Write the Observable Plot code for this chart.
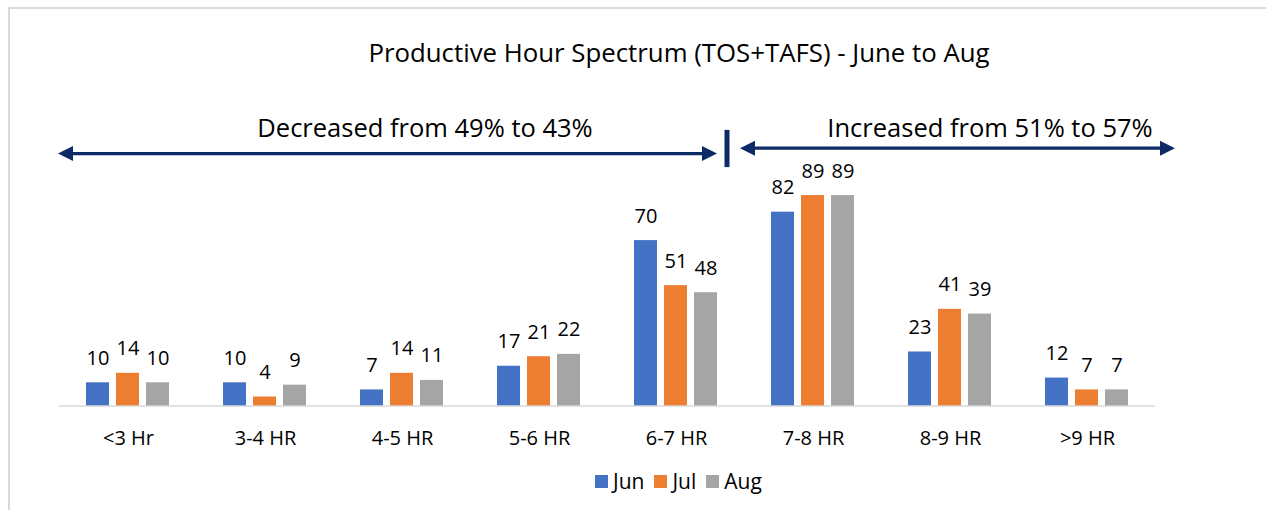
<!DOCTYPE html>
<html>
<head>
<meta charset="utf-8">
<script src="https://cdn.jsdelivr.net/npm/d3@7"></script>
<script src="https://cdn.jsdelivr.net/npm/@observablehq/plot@0.6"></script>
<style>
  body { margin: 0; background: #fff; font-family: "Open Sans", sans-serif; }
  #wrap { position: relative; width: 1266px; height: 510px; overflow: hidden; background: #fff; }
  #border { position: absolute; left: 8px; top: 7px; width: 1300px; height: 600px;
            border-left: 2px solid #d9d9d9; border-top: 2px solid #d9d9d9; }
  #title { position: absolute; top: 34px; left: 0; width: 1358px; text-align: center;
           font-size: 25.8px; color: #000; white-space: nowrap; }
  #chart { position: absolute; left: 0; top: 0; }
  #legend { position: absolute; left: 595px; top: 467px; display: flex; align-items: center;
            font-size: 21px; color: #000; }
  .item { display: flex; align-items: center; margin-right: 10px; }
  .sw { width: 13px; height: 13px; margin-right: 5px; }
</style>
</head>
<body>
<div id="wrap">
  <div id="border"></div>
  <div id="title"></div>
  <div id="chart"></div>
  <div id="legend"></div>
</div>
<script>
const titleText = "Productive Hour Spectrum (TOS+TAFS) - June to Aug";
const categories = ["<3 Hr", "3-4 HR", "4-5 HR", "5-6 HR", "6-7 HR", "7-8 HR", "8-9 HR", ">9 HR"];
const months = ["Jun", "Jul", "Aug"];
const jun = [10, 10, 7, 17, 70, 82, 23, 12];
const jul = [14, 4, 14, 21, 51, 89, 41, 7];
const aug = [10, 9, 11, 22, 48, 89, 39, 7];
const colors = ["#4472C4", "#ED7D31", "#A5A5A5"];
const annotationTexts = ["Decreased from 49% to 43%", "Increased from 51% to 57%"];

const series = [jun, jul, aug];
const data = categories.flatMap((cat, i) =>
  months.map((m, j) => ({ cat, month: m, value: series[j][i] })));

document.getElementById("title").textContent = titleText;

const W = 1266, H = 460;
const chart = Plot.plot({
  width: W, height: H,
  marginLeft: 59, marginRight: 111, marginTop: 169, marginBottom: 54,
  style: { fontFamily: "Open Sans", fontSize: "20px", color: "#000", background: "transparent" },
  fx: { domain: categories, paddingInner: 0.287, paddingOuter: 0.1435, label: null, axis: null },
  x: { domain: months, padding: 0.224, axis: null },
  y: { domain: [0, 100], axis: null },
  color: { domain: months, range: colors },
  marks: [
    Plot.barY(data, { fx: "cat", x: "month", y: "value", fill: "month" }),
    Plot.text(data, { fx: "cat", x: "month", y: "value", text: d => String(d.value),
      lineAnchor: "bottom", dy: -18, fontSize: 20, fill: "#000" }),
    Plot.axisFx({ anchor: "bottom", tickSize: 0, tickPadding: 24, fontSize: 20, label: null, fill: "#000" })
  ]
});
document.getElementById("chart").appendChild(chart);

// baseline + annotations drawn relative to the chart's scales
const svg = d3.select(chart);
const yS = chart.scale("y"), fxS = chart.scale("fx");
const left = fxS.range[0], right = fxS.range[1];
const y0 = yS.apply(0);
svg.append("line").attr("x1", left).attr("x2", right).attr("y1", y0).attr("y2", y0)
  .attr("stroke", "#d9d9d9").attr("stroke-width", 1.6);

const navy = "#0c2a66";
const divX = fxS.apply("6-7 HR") + fxS.bandwidth + 2;
function arrow(x1, x2, y) {
  const g = svg.append("g").attr("fill", navy).attr("stroke", navy);
  const h = 15, w = 7.5;
  g.append("line").attr("x1", x1 + h - 2).attr("x2", x2 - h + 2).attr("y1", y).attr("y2", y)
    .attr("stroke-width", 3.2);
  g.append("path").attr("stroke", "none")
    .attr("d", `M${x1},${y} L${x1 + h},${y - w} L${x1 + h},${y + w} Z`);
  g.append("path").attr("stroke", "none")
    .attr("d", `M${x2},${y} L${x2 - h},${y - w} L${x2 - h},${y + w} Z`);
}
arrow(left - 1, divX - 10, yS.apply(106.5));
arrow(divX + 13, right + 20, yS.apply(108.8));
svg.append("rect").attr("x", divX - 2.5).attr("width", 5)
  .attr("y", yS.apply(116.5)).attr("height", yS.apply(100.8) - yS.apply(116.5)).attr("fill", navy);

svg.append("text").attr("x", 425).attr("y", yS.apply(113.3))
  .attr("text-anchor", "middle").attr("font-size", 25.5).attr("fill", "#000").text(annotationTexts[0]);
svg.append("text").attr("x", 990).attr("y", yS.apply(113.3))
  .attr("text-anchor", "middle").attr("font-size", 25.5).attr("fill", "#000").text(annotationTexts[1]);

const legend = d3.select("#legend");
months.forEach((m, i) => {
  const it = legend.append("div").attr("class", "item");
  it.append("div").attr("class", "sw").style("background", colors[i]);
  it.append("span").text(m);
});
</script>
</body>
</html>
